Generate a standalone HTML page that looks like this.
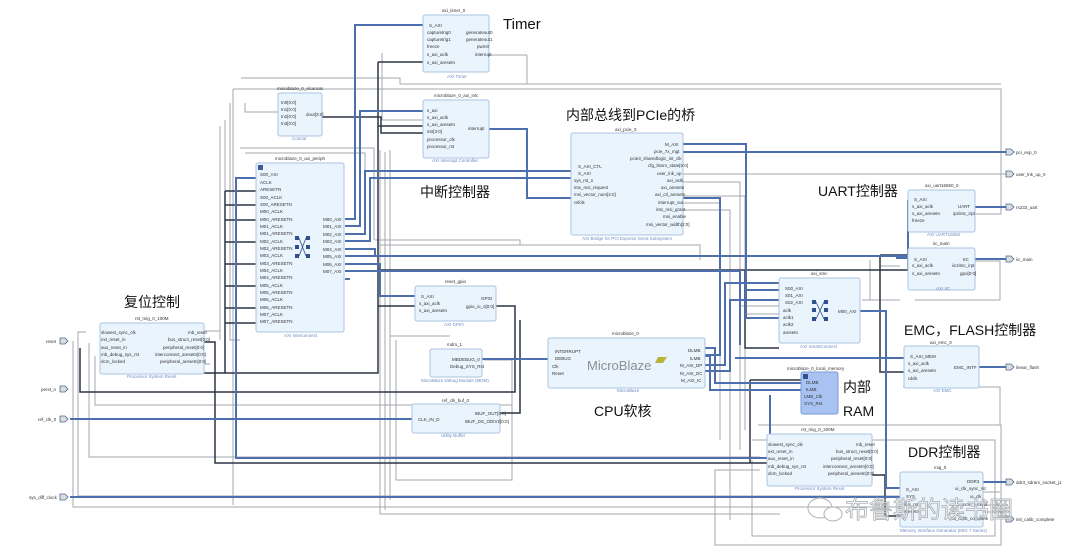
<!DOCTYPE html>
<html><head><meta charset="utf-8"><style>
html,body{margin:0;padding:0;background:#fff;}
svg{display:block;}
.b{fill:#eaf4fc;stroke:#a9c3e2;stroke-width:1;}
.t{font-family:"Liberation Sans",sans-serif;font-size:4.5px;fill:#333;}
.s{font-family:"Liberation Sans",sans-serif;font-size:4.5px;fill:#6b8cc4;}
.h{font-family:"Liberation Sans","Noto Sans CJK SC",sans-serif;fill:#111;}
.g{fill:none;stroke:#a3a7ad;stroke-width:1;}
.d{fill:none;stroke:#2c3545;stroke-width:1.5;}
.u{fill:none;stroke:#4d6fae;stroke-width:2;}
</style></head><body>
<svg width="1080" height="554" viewBox="0 0 1080 554" xmlns="http://www.w3.org/2000/svg">
<rect width="1080" height="554" fill="#fff"/>

<!-- gray wires -->
<path class="g" d="M233 89 H1001 V214 H975"/>
<path class="g" d="M241 78 H400 V84 H1001"/>
<path class="g" d="M382 53 V120 M382 120 H423 M527 55 V84 M490 55 H527"/>
<path class="g" d="M245 103 V112 H278 M230 103 V340 H240 M233 89 V505 M225 120 V330 M220 126 V340"/>
<path class="g" d="M240 148 H374 V240 M245 153 H365 V230"/>
<path class="g" d="M380 150 V514 H780 M385 152 V510 M390 150 V500"/>
<path class="g" d="M375 240 H520 V245 H700 V260 M380 245 H525"/>
<path class="g" d="M682 182 H740 V450 M682 196 H745 V430 M682 203 H720 V440 M682 210 H730 V520"/>
<path class="g" d="M450 336 H390 M396 340 V480 H512 V360 H484"/>
<path class="g" d="M86 332 H78 V496 H900 M89 343 V457 H760 M95 356 V405 H512"/>
<path class="g" d="M73 341 V507 H900"/>
<path class="g" d="M740 306 H779 M745 314 H779 M730 300 H779"/>
<path class="g" d="M975 261 H1000 V300 H915 M862 300 H900"/>
<path class="g" d="M758 425 H1001 V545 H715 V470 H760 M752 440 H995 V536 H752 V460"/>
<path class="g" d="M903 387 H1000 V425"/>
<path class="g" d="M204 331 H220 M204 342 H215 V420 M204 364 H210"/>
<path class="g" d="M870 300 V260 M900 266 H880 V270"/>
<path class="g" d="M682 174 H1010"/>
<path class="g" d="M983 492 H1000 M983 505 H1000 M983 512 H1010"/>

<!-- dark wires -->
<path class="d" d="M378 62 H423 M378 62 V373 H204 M378 126 H423 M378 256 H779"/>
<path class="d" d="M322 117 H381 V133 H423"/>
<path class="d" d="M225 191 H256 M225 205 H256 M225 220 H256 M225 242 H256 M225 264 H256 M225 286 H256 M225 308 H256 M225 323 H256 M225 191 V373"/>
<path class="d" d="M80 348 V392 H515 V306 H496 M204 342 H215 V463 H770"/>
<path class="d" d="M378 270 H920 M420 306 H378"/>
<path class="d" d="M745 270 V348 H779 M880 255 H908 V270 M880 255 V372 H904"/>
<path class="d" d="M500 413 H520 V320"/>
<path class="d" d="M872 475 H885 V516 H900"/>
<path class="d" d="M750 380 H801 M750 380 V463"/>

<!-- blue wires -->
<path class="u" d="M345 219 H355 V25 H423"/>
<path class="u" d="M345 226 H360 V111 H423"/>
<path class="u" d="M345 234 H365 V171 H571"/>
<path class="u" d="M345 241 H370 V178 H571"/>
<path class="u" d="M345 249 H375 V256 H908 V200"/>
<path class="u" d="M345 256 H345 M345 256 H897 M897 256 V258 H908"/>
<path class="u" d="M345 264 H380 V296 H415"/>
<path class="u" d="M345 271 H740 V345 M345 279 H350"/>
<path class="u" d="M256 178 H236 V458 H770 V395"/>
<path class="u" d="M489 129 H527 V198 H720 V355 H705"/>
<path class="u" d="M482 359 H548"/>
<path class="u" d="M682 144 H746 V318 H779 M746 318 V290 H779"/>
<path class="u" d="M682 152 H1006"/>
<path class="u" d="M975 207 H1006"/>
<path class="u" d="M975 259 H1006"/>
<path class="u" d="M860 311 H886 V488 H900"/>
<path class="u" d="M705 348 H715 V383 H801 M705 356 H710 V390 H801"/>
<path class="u" d="M705 365 H725 V283 H779 M705 371 H730 V300 H779"/>
<path class="u" d="M70 419 H412"/>
<path class="u" d="M70 497 H900"/>
<path class="u" d="M979 367 H1006"/>
<path class="u" d="M983 482 H1006"/>
<path class="u" d="M735 358 V358 M735 358 H904"/>

<!-- blocks -->
<rect class="b" x="423" y="15" width="66" height="57" rx="2"/>
<text class="t" x="442" y="12">axi_timer_0</text>
<text class="s" x="447" y="78">AXI Timer</text>
<text class="t" x="429" y="27">S_AXI</text><text class="t" x="427" y="34">capturetrig0</text><text class="t" x="427" y="41">capturetrig1</text><text class="t" x="427" y="48">freeze</text><text class="t" x="427" y="56">s_axi_aclk</text><text class="t" x="427" y="64">s_axi_aresetn</text>
<text class="t" x="466" y="34">generateout0</text><text class="t" x="466" y="41">generateout1</text><text class="t" x="477" y="48">pwm0</text><text class="t" x="475" y="56">interrupt</text>

<rect class="b" x="278" y="93" width="44" height="43" rx="2"/>
<text class="t" x="277" y="90">microblaze_0_xlconcat</text>
<text class="t" x="281" y="104">In0[0:0]</text><text class="t" x="281" y="111">In1[0:0]</text><text class="t" x="281" y="118">In2[0:0]</text><text class="t" x="281" y="125">In3[0:0]</text>
<text class="t" x="306" y="116">dout[3:0]</text>
<text class="s" x="292" y="140">Concat</text>

<rect class="b" x="423" y="100" width="66" height="58" rx="2"/>
<text class="t" x="434" y="97">microblaze_0_axi_intc</text>
<text class="t" x="427" y="112">s_axi</text><text class="t" x="427" y="119">s_axi_aclk</text><text class="t" x="427" y="126">s_axi_aresetn</text><text class="t" x="427" y="133">intr[3:0]</text><text class="t" x="427" y="141">processor_clk</text><text class="t" x="427" y="148">processor_rst</text>
<text class="t" x="468" y="130">interrupt</text>
<text class="s" x="432" y="162">AXI Interrupt Controller</text>

<rect class="b" x="256" y="163" width="88" height="169" rx="2"/>
<rect x="258" y="165" width="5" height="5" fill="#3a5a9a"/>
<text class="t" x="275" y="160">microblaze_0_axi_periph</text>
<text class="t" x="260" y="176">S00_AXI</text>
<text class="t" x="260" y="184">ACLK</text><text class="t" x="260" y="191">ARESETN</text><text class="t" x="260" y="199">S00_ACLK</text><text class="t" x="260" y="206">S00_ARESETN</text><text class="t" x="260" y="213">M00_ACLK</text><text class="t" x="260" y="221">M00_ARESETN</text><text class="t" x="260" y="228">M01_ACLK</text><text class="t" x="260" y="235">M01_ARESETN</text><text class="t" x="260" y="243">M02_ACLK</text><text class="t" x="260" y="250">M02_ARESETN</text><text class="t" x="260" y="257">M03_ACLK</text><text class="t" x="260" y="265">M03_ARESETN</text><text class="t" x="260" y="272">M04_ACLK</text><text class="t" x="260" y="279">M04_ARESETN</text><text class="t" x="260" y="287">M05_ACLK</text><text class="t" x="260" y="294">M05_ARESETN</text><text class="t" x="260" y="301">M06_ACLK</text><text class="t" x="260" y="309">M06_ARESETN</text><text class="t" x="260" y="316">M07_ACLK</text><text class="t" x="260" y="323">M07_ARESETN</text>
<text class="t" x="323" y="221">M00_AXI</text><text class="t" x="323" y="228">M01_AXI</text><text class="t" x="323" y="236">M02_AXI</text><text class="t" x="323" y="243">M03_AXI</text><text class="t" x="323" y="251">M04_AXI</text><text class="t" x="323" y="258">M05_AXI</text><text class="t" x="323" y="266">M06_AXI</text><text class="t" x="323" y="273">M07_AXI</text>
<g fill="#2f4f8f"><rect x="295" y="236" width="4" height="4"/><rect x="306" y="236" width="4" height="4"/><rect x="295" y="245" width="4" height="4"/><rect x="306" y="245" width="4" height="4"/><rect x="295" y="254" width="4" height="4"/><rect x="306" y="254" width="4" height="4"/></g>
<path d="M299 238 L306 256 M306 238 L299 256" stroke="#2f4f8f" stroke-width="0.8"/>
<text class="s" x="284" y="337">AXI Interconnect</text>

<rect class="b" x="571" y="133" width="112" height="102" rx="2"/>
<text class="t" x="615" y="131">axi_pcie_0</text>
<text class="t" x="578" y="168">S_AXI_CTL</text><text class="t" x="578" y="175">S_AXI</text><text class="t" x="574" y="182">sys_rst_n</text><text class="t" x="574" y="189">intx_msi_request</text><text class="t" x="574" y="196">msi_vector_num[4:0]</text><text class="t" x="574" y="204">refclk</text>
<text class="t" x="665" y="146">M_AXI</text><text class="t" x="654" y="153">pcie_7x_mgt</text><text class="t" x="630" y="160">pcie3_sharedlogic_int_clk</text><text class="t" x="648" y="167">cfg_ltssm_state[5:0]</text><text class="t" x="657" y="175">user_lnk_up</text><text class="t" x="667" y="182">axi_aclk</text><text class="t" x="661" y="189">axi_aresetn</text><text class="t" x="655" y="196">axi_ctl_aresetn</text><text class="t" x="658" y="204">interrupt_out</text><text class="t" x="656" y="211">intx_msi_grant</text><text class="t" x="663" y="218">msi_enable</text><text class="t" x="646" y="226">msi_vector_width[2:0]</text>
<text class="s" x="582" y="240">AXI Bridge for PCI Express Gen3 Subsystem</text>

<rect class="b" x="908" y="190" width="67" height="42" rx="2"/>
<text class="t" x="925" y="187">axi_uart16550_0</text>
<text class="t" x="914" y="201">S_AXI</text><text class="t" x="912" y="208">s_axi_aclk</text><text class="t" x="912" y="215">s_axi_aresetn</text><text class="t" x="912" y="222">freeze</text>
<text class="t" x="958" y="208">UART</text><text class="t" x="953" y="215">ip2intc_irpt</text>
<text class="s" x="927" y="236">AXI UART16550</text>

<rect class="b" x="908" y="248" width="67" height="42" rx="2"/>
<text class="t" x="933" y="245">iic_main</text>
<text class="t" x="914" y="261">S_AXI</text><text class="t" x="912" y="267">s_axi_aclk</text><text class="t" x="912" y="275">s_axi_aresetn</text>
<text class="t" x="963" y="261">IIC</text><text class="t" x="952" y="267">iic2intc_irpt</text><text class="t" x="960" y="275">gpo[0:0]</text>
<text class="s" x="936" y="290">AXI IIC</text>

<rect class="b" x="779" y="278" width="81" height="65" rx="2"/>
<text class="t" x="811" y="275">axi_smc</text>
<text class="t" x="785" y="290">S00_AXI</text><text class="t" x="785" y="297">S01_AXI</text><text class="t" x="785" y="304">S02_AXI</text><text class="t" x="783" y="312">aclk</text><text class="t" x="783" y="319">aclk1</text><text class="t" x="783" y="326">aclk2</text><text class="t" x="783" y="334">aresetn</text>
<text class="t" x="838" y="313">M00_AXI</text>
<g fill="#2f4f8f"><rect x="812" y="300" width="4" height="4"/><rect x="824" y="300" width="4" height="4"/><rect x="812" y="308" width="4" height="4"/><rect x="824" y="308" width="4" height="4"/><rect x="812" y="317" width="4" height="4"/><rect x="824" y="317" width="4" height="4"/></g>
<path d="M816 302 L824 319 M824 302 L816 319" stroke="#2f4f8f" stroke-width="0.8"/>
<text class="s" x="800" y="348">AXI SmartConnect</text>

<rect class="b" x="415" y="286" width="81" height="35" rx="2"/>
<text class="t" x="445" y="283">reset_gpio</text>
<text class="t" x="421" y="298">S_AXI</text><text class="t" x="419" y="305">s_axi_aclk</text><text class="t" x="419" y="312">s_axi_aresetn</text>
<text class="t" x="481" y="300">GPIO</text><text class="t" x="466" y="308">gpio_io_o[0:0]</text>
<text class="s" x="444" y="326">AXI GPIO</text>

<rect class="b" x="430" y="349" width="52" height="28" rx="2"/>
<text class="t" x="447" y="346">mdm_1</text>
<text class="t" x="452" y="361">MBDEBUG_0</text><text class="t" x="450" y="368">Debug_SYS_Rst</text>
<text class="s" x="421" y="382">MicroBlaze Debug Module (MDM)</text>

<rect class="b" x="412" y="404" width="88" height="29" rx="2"/>
<text class="t" x="442" y="402">ref_clk_buf_0</text>
<text class="t" x="418" y="421">CLK_IN_D</text>
<text class="t" x="475" y="415">IBUF_OUT[0:0]</text><text class="t" x="465" y="423">IBUF_DS_ODIV2[0:0]</text>
<text class="s" x="441" y="437">Utility Buffer</text>

<rect class="b" x="100" y="323" width="104" height="51" rx="2"/>
<text class="t" x="135" y="320">rst_mig_0_100M</text>
<text class="t" x="101" y="334">slowest_sync_clk</text><text class="t" x="101" y="341">ext_reset_in</text><text class="t" x="101" y="349">aux_reset_in</text><text class="t" x="101" y="356">mb_debug_sys_rst</text><text class="t" x="101" y="363">dcm_locked</text>
<text class="t" x="188" y="334">mb_reset</text><text class="t" x="168" y="341">bus_struct_reset[0:0]</text><text class="t" x="163" y="349">peripheral_reset[0:0]</text><text class="t" x="155" y="356">interconnect_aresetn[0:0]</text><text class="t" x="160" y="363">peripheral_aresetn[0:0]</text>
<text class="s" x="127" y="378">Processor System Reset</text>

<rect class="b" x="548" y="338" width="157" height="50" rx="2"/>
<text class="t" x="612" y="335">microblaze_0</text>
<text class="t" x="555" y="353">INTERRUPT</text><text class="t" x="555" y="360">DEBUG</text><text class="t" x="552" y="368">Clk</text><text class="t" x="552" y="375">Reset</text>
<text x="587" y="370" font-family="Liberation Sans,sans-serif" font-size="13" fill="#8a8f96">MicroBlaze</text>
<path d="M658 357 L667 357 L663 363 L655 363 Z" fill="#b9b53a"/>
<text class="t" x="688" y="352">DLMB</text><text class="t" x="690" y="360">ILMB</text><text class="t" x="680" y="367">M_AXI_DP</text><text class="t" x="680" y="375">M_AXI_DC</text><text class="t" x="681" y="382">M_AXI_IC</text>
<text class="s" x="617" y="392">MicroBlaze</text>

<rect x="801" y="372" width="37" height="42" rx="2" fill="#a8c3f2" stroke="#7a9ad8"/>
<rect x="803" y="374" width="5" height="5" fill="#2f4f8f"/>
<text class="t" x="787" y="370">microblaze_0_local_memory</text>
<text class="t" x="806" y="384">DLMB</text><text class="t" x="806" y="391">ILMB</text><text class="t" x="804" y="398">LMB_Clk</text><text class="t" x="804" y="405">SYS_Rst</text>

<rect class="b" x="904" y="346" width="75" height="42" rx="2"/>
<text class="t" x="930" y="344">axi_emc_0</text>
<text class="t" x="910" y="358">S_AXI_MEM</text><text class="t" x="908" y="365">s_axi_aclk</text><text class="t" x="908" y="372">s_axi_aresetn</text><text class="t" x="908" y="380">rdclk</text>
<text class="t" x="954" y="369">EMC_INTF</text>
<text class="s" x="933" y="392">AXI EMC</text>

<rect class="b" x="767" y="434" width="105" height="52" rx="2"/>
<text class="t" x="801" y="431">rst_mig_0_200M</text>
<text class="t" x="768" y="446">slowest_sync_clk</text><text class="t" x="768" y="453">ext_reset_in</text><text class="t" x="768" y="460">aux_reset_in</text><text class="t" x="768" y="468">mb_debug_sys_rst</text><text class="t" x="768" y="475">dcm_locked</text>
<text class="t" x="856" y="446">mb_reset</text><text class="t" x="836" y="453">bus_struct_reset[0:0]</text><text class="t" x="831" y="460">peripheral_reset[0:0]</text><text class="t" x="823" y="468">interconnect_aresetn[0:0]</text><text class="t" x="828" y="475">peripheral_aresetn[0:0]</text>
<text class="s" x="795" y="490">Processor System Reset</text>

<rect class="b" x="900" y="472" width="83" height="55" rx="2"/>
<text class="t" x="934" y="469">mig_0</text>
<text class="t" x="906" y="491">S_AXI</text><text class="t" x="906" y="498">SYS</text><text class="t" x="904" y="506">sys_rst</text><text class="t" x="904" y="513">aresetn</text>
<text class="t" x="967" y="483">DDR3</text><text class="t" x="955" y="490">ui_clk_sync_rst</text><text class="t" x="970" y="498">ui_clk</text><text class="t" x="958" y="506">mmcm_locked</text><text class="t" x="950" y="520">init_calib_complete</text>
<text class="s" x="900" y="532">Memory Interface Generator (MIG 7 Series)</text>

<!-- external ports right -->
<g fill="#d9dde2" stroke="#4d6a8a" stroke-width="0.8">
<path d="M1006 149 h5 l3 3 l-3 3 h-5 Z"/><path d="M1006 171 h5 l3 3 l-3 3 h-5 Z"/><path d="M1006 204 h5 l3 3 l-3 3 h-5 Z"/><path d="M1006 256 h5 l3 3 l-3 3 h-5 Z"/><path d="M1006 364 h5 l3 3 l-3 3 h-5 Z"/><path d="M1006 479 h5 l3 3 l-3 3 h-5 Z"/><path d="M1006 516 h5 l3 3 l-3 3 h-5 Z"/>
<path d="M60 338 h5 l3 3 l-3 3 h-5 Z"/><path d="M60 386 h5 l3 3 l-3 3 h-5 Z"/><path d="M60 416 h5 l3 3 l-3 3 h-5 Z"/><path d="M60 494 h5 l3 3 l-3 3 h-5 Z"/>
</g>
<text class="t" x="1016" y="154">pci_exp_0</text>
<text class="t" x="1016" y="176">user_lnk_up_0</text>
<text class="t" x="1016" y="209">rs232_uart</text>
<text class="t" x="1016" y="261">iic_main</text>
<text class="t" x="1016" y="369">linear_flash</text>
<text class="t" x="1016" y="484">ddr3_sdram_socket_j1</text>
<text class="t" x="1016" y="521">init_calib_complete</text>
<text class="t" x="46" y="343">reset</text>
<text class="t" x="41" y="391">perst_n</text>
<text class="t" x="38" y="421">ref_clk_0</text>
<text class="t" x="29" y="499">sys_diff_clock</text>

<!-- headings -->
<text class="h" x="503" y="29" font-size="15">Timer</text>
<text class="h" x="420" y="197" font-size="14">中断控制器</text>
<text class="h" x="566" y="120" font-size="14">内部总线到PCIe的桥</text>
<text class="h" x="818" y="196" font-size="14">UART控制器</text>
<text class="h" x="124" y="307" font-size="14">复位控制</text>
<text class="h" x="904" y="335" font-size="14">EMC，FLASH控制器</text>
<text class="h" x="594" y="416" font-size="14">CPU软核</text>
<text class="h" x="843" y="392" font-size="14">内部</text>
<text class="h" x="843" y="416" font-size="14">RAM</text>
<text class="h" x="908" y="457" font-size="14">DDR控制器</text>

<!-- watermark -->
<ellipse cx="820" cy="508" rx="12" ry="10" fill="none" stroke="#b8bcc0" stroke-width="1.2"/>
<ellipse cx="833" cy="514" rx="9" ry="7" fill="#fff" stroke="#b8bcc0" stroke-width="1.2"/>
<text x="845" y="518" font-family="Liberation Sans,'Noto Sans CJK SC',sans-serif" font-size="24" fill="#ffffff" fill-opacity="0.6" stroke="#a8acb0" stroke-width="0.8">布鲁斯的读书圈</text>
</svg>
</body></html>
